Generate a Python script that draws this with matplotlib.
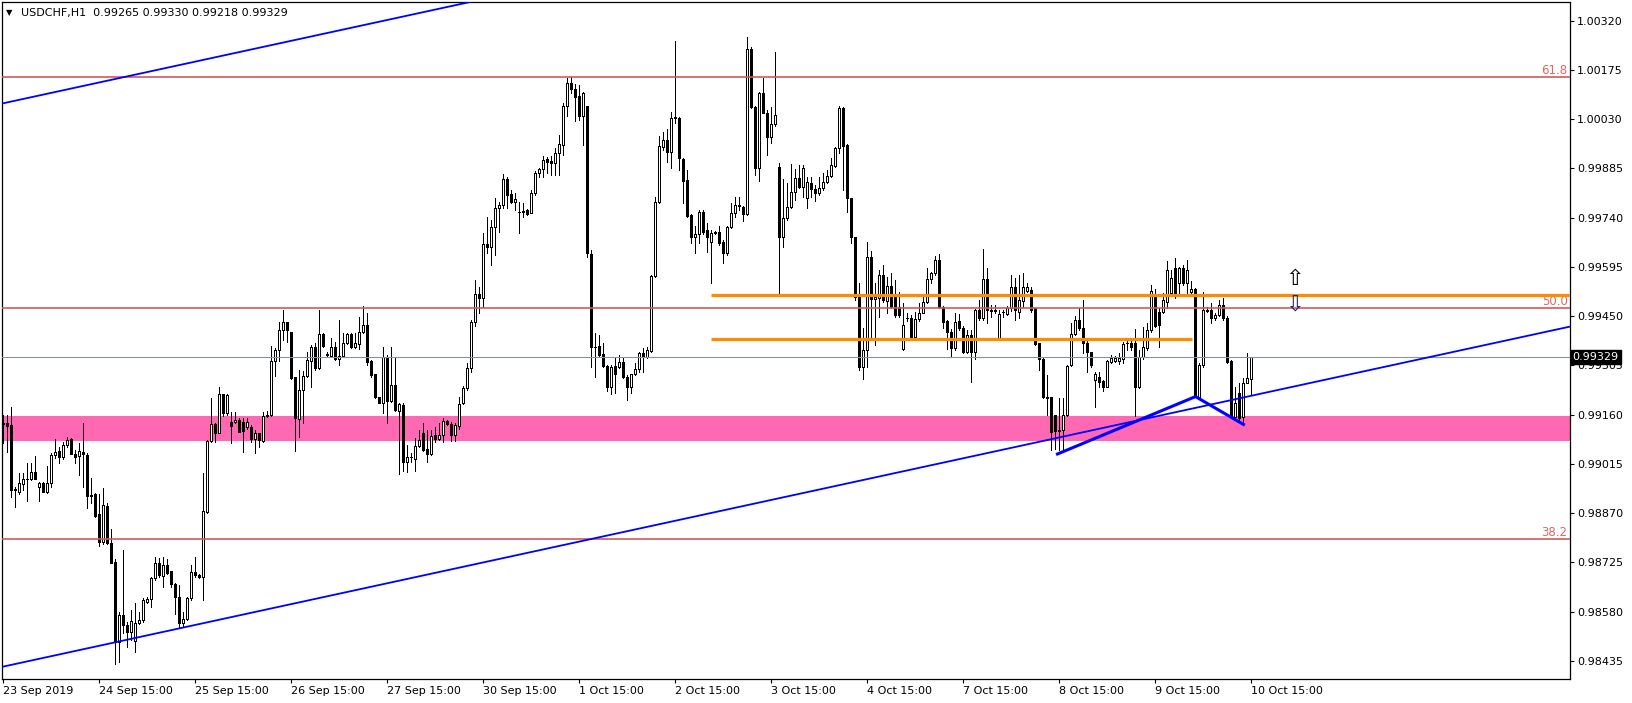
import matplotlib
matplotlib.use("Agg")
import matplotlib.pyplot as plt
from matplotlib.patches import Rectangle
from matplotlib.collections import PatchCollection, LineCollection
import matplotlib.transforms as mtransforms

# ---------------- data ----------------
header_symbol = "USDCHF,H1"
header_ohlc = "0.99265 0.99330 0.99218 0.99329"

opens = [
    0.99134, 0.99134, 0.99129, 0.98940, 0.98933, 0.98957, 0.98970, 0.98970, 0.98990, 0.98948,
    0.98959, 0.98931, 0.98959, 0.99042, 0.99052, 0.99036, 0.99069, 0.99088, 0.99044, 0.99038,
    0.99051, 0.99041, 0.98921, 0.98926, 0.98867, 0.98786, 0.98891, 0.98781, 0.98725, 0.98491,
    0.98570, 0.98540, 0.98520, 0.98494, 0.98545, 0.98555, 0.98609, 0.98616, 0.98678, 0.98722,
    0.98686, 0.98717, 0.98699, 0.98660, 0.98622, 0.98545, 0.98557, 0.98619, 0.98695, 0.98689,
    0.98683, 0.98874, 0.99083, 0.99131, 0.99107, 0.99220, 0.99166, 0.99137, 0.99137, 0.99144,
    0.99137, 0.99122, 0.99124, 0.99087, 0.99105, 0.99083, 0.99156, 0.99158, 0.99318, 0.99349,
    0.99409, 0.99432, 0.99402, 0.99270, 0.99146, 0.99232, 0.99274, 0.99319, 0.99358, 0.99296,
    0.99396, 0.99337, 0.99334, 0.99360, 0.99323, 0.99332, 0.99370, 0.99397, 0.99358, 0.99368,
    0.99402, 0.99424, 0.99318, 0.99279, 0.99211, 0.99195, 0.99328, 0.99201, 0.99247, 0.99171,
    0.99188, 0.99021, 0.99036, 0.99028, 0.99067, 0.99105, 0.99058, 0.99044, 0.99100, 0.99087,
    0.99100, 0.99141, 0.99132, 0.99100, 0.99126, 0.99193, 0.99237, 0.99296, 0.99432, 0.99514,
    0.99504, 0.99662, 0.99655, 0.99712, 0.99768, 0.99777, 0.99854, 0.99809, 0.99787, 0.99758,
    0.99758, 0.99763, 0.99755, 0.99812, 0.99871, 0.99882, 0.99912, 0.99908, 0.99902, 0.99930,
    0.99954, 1.00069, 1.00136, 1.00118, 1.00098, 1.00038, 1.00069, 0.99633, 0.99360, 0.99362,
    0.99338, 0.99303, 0.99242, 0.99303, 0.99299, 0.99314, 0.99272, 0.99240, 0.99279, 0.99293,
    0.99342, 0.99330, 0.99348, 0.99568, 0.99787, 0.99949, 0.99969, 0.99932, 1.00035, 1.00033,
    0.99913, 0.99851, 0.99748, 0.99682, 0.99692, 0.99758, 0.99704, 0.99669, 0.99694, 0.99697,
    0.99668, 0.99635, 0.99712, 0.99753, 0.99775, 0.99771, 0.99750, 1.00236, 1.00065, 0.99885,
    1.00106, 1.00049, 0.99977, 1.00016, 0.99890, 0.99684, 0.99738, 0.99771, 0.99817, 0.99856,
    0.99830, 0.99797, 0.99843, 0.99824, 0.99812, 0.99827, 0.99846, 0.99864, 0.99892, 0.99944,
    1.00062, 0.99954, 0.99797, 0.99682, 0.99507, 0.99301, 0.99350, 0.99623, 0.99500, 0.99503,
    0.99571, 0.99496, 0.99539, 0.99509, 0.99478, 0.99352, 0.99443, 0.99443, 0.99388, 0.99441,
    0.99460, 0.99493, 0.99558, 0.99576, 0.99615, 0.99478, 0.99436, 0.99404, 0.99355, 0.99435,
    0.99414, 0.99345, 0.99394, 0.99345, 0.99468, 0.99443, 0.99558, 0.99468, 0.99466, 0.99386,
    0.99461, 0.99456, 0.99473, 0.99535, 0.99463, 0.99495, 0.99525, 0.99527, 0.99473, 0.99370,
    0.99325, 0.99212, 0.99212, 0.99158, 0.99112, 0.99114, 0.99158, 0.99306, 0.99396, 0.99438,
    0.99414, 0.99370, 0.99345, 0.99262, 0.99271, 0.99260, 0.99242, 0.99316, 0.99318, 0.99318,
    0.99325, 0.99370, 0.99372, 0.99370, 0.99242, 0.99330, 0.99355, 0.99409, 0.99509, 0.99463,
    0.99463, 0.99493, 0.99517, 0.99591, 0.99547, 0.99591, 0.99547, 0.99522, 0.99529, 0.99213,
    0.99306, 0.99468, 0.99468, 0.99444, 0.99453, 0.99483, 0.99444, 0.99319, 0.99154, 0.99223,
    0.99154, 0.99252, 0.99265,
]

highs = [
    0.99159, 0.99158, 0.99183, 0.98948, 0.98989, 0.98987, 0.99016, 0.99016, 0.99038, 0.98962,
    0.98962, 0.99008, 0.99046, 0.99087, 0.99065, 0.99080, 0.99095, 0.99090, 0.99056, 0.99075,
    0.99134, 0.99046, 0.98972, 0.98928, 0.98926, 0.98943, 0.98899, 0.98822, 0.98734, 0.98579,
    0.98761, 0.98550, 0.98584, 0.98604, 0.98579, 0.98619, 0.98624, 0.98683, 0.98741, 0.98738,
    0.98741, 0.98736, 0.98699, 0.98663, 0.98658, 0.98579, 0.98624, 0.98717, 0.98741, 0.98692,
    0.98989, 0.99085, 0.99208, 0.99134, 0.99240, 0.99221, 0.99220, 0.99169, 0.99169, 0.99149,
    0.99149, 0.99149, 0.99129, 0.99115, 0.99107, 0.99169, 0.99172, 0.99362, 0.99355, 0.99432,
    0.99468, 0.99434, 0.99404, 0.99270, 0.99291, 0.99289, 0.99345, 0.99365, 0.99370, 0.99468,
    0.99399, 0.99345, 0.99385, 0.99375, 0.99439, 0.99399, 0.99401, 0.99399, 0.99399, 0.99446,
    0.99480, 0.99458, 0.99321, 0.99281, 0.99213, 0.99360, 0.99335, 0.99360, 0.99330, 0.99193,
    0.99195, 0.99070, 0.99046, 0.99090, 0.99114, 0.99134, 0.99114, 0.99114, 0.99122, 0.99134,
    0.99149, 0.99144, 0.99139, 0.99134, 0.99213, 0.99244, 0.99313, 0.99439, 0.99556, 0.99537,
    0.99696, 0.99743, 0.99733, 0.99797, 0.99787, 0.99869, 0.99859, 0.99821, 0.99812, 0.99787,
    0.99782, 0.99765, 0.99821, 0.99876, 0.99885, 0.99922, 0.99918, 0.99922, 0.99944, 0.99984,
    1.00077, 1.00150, 1.00153, 1.00134, 1.00131, 1.00111, 1.00069, 0.99645, 0.99399, 0.99394,
    0.99370, 0.99306, 0.99306, 0.99326, 0.99335, 0.99326, 0.99276, 0.99281, 0.99311, 0.99345,
    0.99355, 0.99360, 0.99571, 0.99802, 0.99979, 0.99993, 1.00000, 1.00052, 1.00259, 1.00036,
    0.99915, 0.99881, 0.99750, 0.99714, 0.99763, 0.99763, 0.99725, 0.99704, 0.99701, 0.99714,
    0.99674, 0.99714, 0.99782, 0.99802, 0.99802, 0.99773, 1.00271, 1.00244, 1.00069, 1.00111,
    1.00151, 1.00057, 1.00067, 1.00227, 0.99900, 0.99853, 0.99841, 0.99898, 0.99883, 0.99895,
    0.99895, 0.99861, 0.99861, 0.99836, 0.99861, 0.99871, 0.99881, 0.99915, 0.99949, 1.00069,
    1.00065, 0.99957, 0.99797, 0.99684, 0.99547, 0.99414, 0.99669, 0.99643, 0.99547, 0.99586,
    0.99601, 0.99566, 0.99576, 0.99555, 0.99522, 0.99488, 0.99460, 0.99453, 0.99463, 0.99488,
    0.99507, 0.99591, 0.99581, 0.99627, 0.99633, 0.99480, 0.99439, 0.99411, 0.99458, 0.99456,
    0.99421, 0.99409, 0.99409, 0.99470, 0.99497, 0.99649, 0.99591, 0.99483, 0.99483, 0.99468,
    0.99468, 0.99480, 0.99571, 0.99561, 0.99571, 0.99576, 0.99548, 0.99537, 0.99473, 0.99370,
    0.99330, 0.99276, 0.99212, 0.99158, 0.99208, 0.99208, 0.99306, 0.99429, 0.99450, 0.99473,
    0.99497, 0.99379, 0.99345, 0.99286, 0.99286, 0.99262, 0.99322, 0.99335, 0.99332, 0.99340,
    0.99375, 0.99384, 0.99379, 0.99411, 0.99350, 0.99419, 0.99430, 0.99542, 0.99530, 0.99473,
    0.99517, 0.99611, 0.99586, 0.99620, 0.99596, 0.99601, 0.99616, 0.99552, 0.99532, 0.99311,
    0.99522, 0.99478, 0.99488, 0.99458, 0.99498, 0.99503, 0.99449, 0.99321, 0.99242, 0.99252,
    0.99267, 0.99341, 0.99330,
]

lows = [
    0.99075, 0.99051, 0.98918, 0.98889, 0.98926, 0.98938, 0.98905, 0.98967, 0.98970, 0.98906,
    0.98931, 0.98928, 0.98948, 0.99031, 0.99016, 0.99028, 0.99065, 0.99043, 0.99018, 0.98982,
    0.98948, 0.98884, 0.98899, 0.98859, 0.98773, 0.98779, 0.98779, 0.98722, 0.98426, 0.98431,
    0.98516, 0.98475, 0.98496, 0.98461, 0.98543, 0.98550, 0.98606, 0.98594, 0.98673, 0.98683,
    0.98653, 0.98692, 0.98653, 0.98574, 0.98535, 0.98533, 0.98555, 0.98614, 0.98683, 0.98678,
    0.98614, 0.98871, 0.99080, 0.99080, 0.99105, 0.99156, 0.99159, 0.99075, 0.99136, 0.99108,
    0.99051, 0.99119, 0.99080, 0.99048, 0.99065, 0.99080, 0.99154, 0.99156, 0.99274, 0.99319,
    0.99380, 0.99375, 0.99265, 0.99054, 0.99093, 0.99134, 0.99272, 0.99242, 0.99291, 0.99293,
    0.99360, 0.99329, 0.99330, 0.99321, 0.99306, 0.99330, 0.99368, 0.99355, 0.99355, 0.99352,
    0.99399, 0.99306, 0.99270, 0.99208, 0.99193, 0.99166, 0.99136, 0.99198, 0.99171, 0.98985,
    0.98995, 0.98990, 0.99021, 0.98995, 0.99065, 0.99054, 0.99021, 0.99041, 0.99080, 0.99085,
    0.99080, 0.99129, 0.99083, 0.99083, 0.99119, 0.99191, 0.99232, 0.99286, 0.99421, 0.99458,
    0.99476, 0.99637, 0.99601, 0.99630, 0.99699, 0.99768, 0.99768, 0.99782, 0.99763, 0.99696,
    0.99743, 0.99748, 0.99753, 0.99807, 0.99859, 0.99859, 0.99871, 0.99866, 0.99866, 0.99866,
    0.99925, 1.00038, 1.00106, 1.00026, 1.00028, 0.99954, 0.99623, 0.99299, 0.99272, 0.99330,
    0.99301, 0.99230, 0.99222, 0.99224, 0.99296, 0.99267, 0.99203, 0.99224, 0.99276, 0.99286,
    0.99286, 0.99326, 0.99345, 0.99566, 0.99784, 0.99939, 0.99905, 0.99885, 1.00020, 0.99881,
    0.99784, 0.99743, 0.99665, 0.99635, 0.99665, 0.99692, 0.99640, 0.99547, 0.99692, 0.99660,
    0.99606, 0.99630, 0.99709, 0.99741, 0.99763, 0.99731, 0.99748, 1.00062, 0.99866, 0.99849,
    1.00047, 0.99925, 0.99959, 1.00010, 0.99517, 0.99655, 0.99733, 0.99768, 0.99792, 0.99827,
    0.99802, 0.99768, 0.99802, 0.99790, 0.99807, 0.99822, 0.99843, 0.99861, 0.99890, 0.99930,
    0.99822, 0.99758, 0.99665, 0.99498, 0.99291, 0.99264, 0.99301, 0.99380, 0.99365, 0.99448,
    0.99493, 0.99458, 0.99473, 0.99448, 0.99448, 0.99350, 0.99437, 0.99385, 0.99385, 0.99437,
    0.99458, 0.99488, 0.99547, 0.99571, 0.99473, 0.99414, 0.99352, 0.99333, 0.99350, 0.99409,
    0.99340, 0.99340, 0.99257, 0.99325, 0.99440, 0.99438, 0.99430, 0.99448, 0.99460, 0.99384,
    0.99446, 0.99453, 0.99466, 0.99438, 0.99443, 0.99478, 0.99522, 0.99463, 0.99365, 0.99291,
    0.99210, 0.99158, 0.99055, 0.99060, 0.99055, 0.99060, 0.99155, 0.99303, 0.99394, 0.99409,
    0.99340, 0.99286, 0.99301, 0.99183, 0.99242, 0.99230, 0.99240, 0.99313, 0.99316, 0.99309,
    0.99311, 0.99350, 0.99350, 0.99155, 0.99237, 0.99325, 0.99350, 0.99404, 0.99419, 0.99360,
    0.99458, 0.99473, 0.99508, 0.99503, 0.99508, 0.99542, 0.99517, 0.99512, 0.99211, 0.99211,
    0.99301, 0.99463, 0.99429, 0.99439, 0.99449, 0.99439, 0.99311, 0.99149, 0.99149, 0.99144,
    0.99129, 0.99252, 0.99218,
]

closes = [
    0.99131, 0.99127, 0.98938, 0.98937, 0.98959, 0.98970, 0.98971, 0.98990, 0.98971, 0.98959,
    0.98931, 0.98959, 0.99041, 0.99051, 0.99036, 0.99070, 0.99085, 0.99043, 0.99036, 0.99052,
    0.99043, 0.98921, 0.98923, 0.98862, 0.98786, 0.98894, 0.98781, 0.98724, 0.98491, 0.98570,
    0.98540, 0.98520, 0.98553, 0.98545, 0.98555, 0.98614, 0.98616, 0.98678, 0.98722, 0.98687,
    0.98717, 0.98694, 0.98660, 0.98622, 0.98545, 0.98557, 0.98619, 0.98695, 0.98687, 0.98683,
    0.98876, 0.99082, 0.99131, 0.99105, 0.99220, 0.99166, 0.99218, 0.99127, 0.99144, 0.99110,
    0.99112, 0.99137, 0.99087, 0.99105, 0.99085, 0.99156, 0.99159, 0.99318, 0.99350, 0.99409,
    0.99432, 0.99409, 0.99267, 0.99149, 0.99232, 0.99274, 0.99321, 0.99358, 0.99296, 0.99396,
    0.99362, 0.99335, 0.99360, 0.99323, 0.99332, 0.99370, 0.99397, 0.99358, 0.99370, 0.99402,
    0.99424, 0.99316, 0.99276, 0.99211, 0.99195, 0.99330, 0.99201, 0.99247, 0.99173, 0.99191,
    0.99021, 0.99036, 0.99034, 0.99067, 0.99085, 0.99056, 0.99044, 0.99097, 0.99087, 0.99100,
    0.99141, 0.99131, 0.99100, 0.99129, 0.99191, 0.99237, 0.99296, 0.99432, 0.99514, 0.99504,
    0.99662, 0.99655, 0.99712, 0.99768, 0.99777, 0.99854, 0.99807, 0.99785, 0.99795, 0.99757,
    0.99759, 0.99751, 0.99812, 0.99871, 0.99882, 0.99910, 0.99905, 0.99902, 0.99931, 0.99957,
    1.00069, 1.00136, 1.00118, 1.00096, 1.00038, 1.00106, 0.99635, 0.99358, 0.99358, 0.99335,
    0.99303, 0.99242, 0.99301, 0.99279, 0.99314, 0.99272, 0.99240, 0.99279, 0.99293, 0.99340,
    0.99329, 0.99350, 0.99568, 0.99787, 0.99951, 0.99969, 0.99932, 1.00033, 1.00033, 0.99915,
    0.99849, 0.99746, 0.99682, 0.99692, 0.99758, 0.99699, 0.99682, 0.99694, 0.99699, 0.99665,
    0.99635, 0.99712, 0.99753, 0.99777, 0.99777, 0.99750, 1.00236, 1.00065, 0.99885, 1.00106,
    1.00049, 0.99977, 1.00015, 1.00042, 0.99684, 0.99738, 0.99771, 0.99817, 0.99856, 0.99830,
    0.99885, 0.99846, 0.99824, 0.99812, 0.99827, 0.99846, 0.99864, 0.99895, 0.99944, 1.00062,
    0.99951, 0.99797, 0.99682, 0.99507, 0.99301, 0.99350, 0.99623, 0.99500, 0.99507, 0.99571,
    0.99498, 0.99539, 0.99478, 0.99453, 0.99453, 0.99424, 0.99445, 0.99388, 0.99441, 0.99460,
    0.99493, 0.99558, 0.99576, 0.99615, 0.99478, 0.99434, 0.99404, 0.99355, 0.99434, 0.99414,
    0.99345, 0.99394, 0.99345, 0.99468, 0.99443, 0.99558, 0.99468, 0.99466, 0.99468, 0.99456,
    0.99463, 0.99473, 0.99535, 0.99468, 0.99497, 0.99537, 0.99535, 0.99468, 0.99368, 0.99325,
    0.99212, 0.99210, 0.99109, 0.99112, 0.99114, 0.99158, 0.99303, 0.99396, 0.99438, 0.99414,
    0.99370, 0.99345, 0.99306, 0.99281, 0.99257, 0.99242, 0.99318, 0.99328, 0.99328, 0.99328,
    0.99368, 0.99372, 0.99358, 0.99242, 0.99330, 0.99358, 0.99409, 0.99525, 0.99421, 0.99424,
    0.99498, 0.99586, 0.99562, 0.99517, 0.99591, 0.99547, 0.99586, 0.99529, 0.99213, 0.99306,
    0.99468, 0.99465, 0.99444, 0.99453, 0.99483, 0.99444, 0.99316, 0.99154, 0.99193, 0.99149,
    0.99252, 0.99267, 0.99329,
]

x_tick_bars = [0, 24, 48, 72, 96, 120, 144, 168, 192, 216, 240, 264, 288, 312]
x_tick_labels = ["23 Sep 2019", "24 Sep 15:00", "25 Sep 15:00", "26 Sep 15:00",
                 "27 Sep 15:00", "30 Sep 15:00", "1 Oct 15:00", "2 Oct 15:00",
                 "3 Oct 15:00", "4 Oct 15:00", "7 Oct 15:00", "8 Oct 15:00",
                 "9 Oct 15:00", "10 Oct 15:00"]
y_tick_values = [0.98435, 0.98580, 0.98725, 0.98870, 0.99015, 0.99160, 0.99305,
                 0.99450, 0.99595, 0.99740, 0.99885, 1.00030, 1.00175, 1.00320]

fib_levels = [1.00155, 0.99475, 0.98794]
fib_labels = ["61.8", "50.0", "38.2"]

zone_top = 0.99156
zone_bottom = 0.99083

orange_levels = [0.99512, 0.99382]
orange_start_bars = [176.8, 176.8]
orange_end_bars = [None, 297.1]

channel_lower = [(0, 0.98418), (390, 0.99415)]
channel_upper = [(0, 1.00077), (117, 1.00376)]

zigzag_bars = [263.5, 298, 310]
zigzag_prices = [0.99044, 0.99213, 0.99131]

last_price = 0.99329
arrow_bar = 322.7
arrow_up_price = 0.99559
arrow_down_price = 0.99484

# ---------------- figure ----------------
W, H = 1633, 703
fig = plt.figure(figsize=(W / 100, H / 100), dpi=100)
ax = fig.add_axes([2 / W, 24 / H, 1568 / W, 677 / H])
XMIN, XMAX = -0.375, 391.625
ax.set_xlim(XMIN, XMAX)
ax.set_ylim(0.983813, 1.003751)
ax.set_facecolor("white")

# background zone
ax.axhspan(zone_bottom, zone_top, facecolor="#FF69B4", edgecolor="none", zorder=0.5)

# candles
wick_segs = []
bodies_up, bodies_dn = [], []
bw = 0.5
for i, (o, h, l, c) in enumerate(zip(opens, highs, lows, closes)):
    wick_segs.append([(i, l), (i, h)])
    r = Rectangle((i - bw / 2, min(o, c)), bw, abs(c - o))
    (bodies_up if c >= o else bodies_dn).append(r)
ax.add_collection(LineCollection(wick_segs, colors="black", linewidths=0.7,
                                 zorder=2, antialiaseds=False, snap=True))
ax.add_collection(PatchCollection(bodies_up, facecolor="white", edgecolor="black",
                                  linewidths=0.7, zorder=2.2, antialiased=False,
                                  snap=True))
ax.add_collection(PatchCollection(bodies_dn, facecolor="black", edgecolor="black",
                                  linewidths=0.7, zorder=2.2, antialiased=False,
                                  snap=True))

# fibo levels
trans_lab = mtransforms.blended_transform_factory(ax.transAxes, ax.transData)
for lvl, lab in zip(fib_levels, fib_labels):
    ax.axhline(lvl, color="#CD5C5C", lw=1.2, zorder=3)
    ax.text(0.9985, lvl, lab, transform=trans_lab, ha="right", va="bottom",
            color="#E06666", fontsize=8.5, zorder=3)

# current price line
ax.axhline(last_price, color="#8A939E", lw=0.8, zorder=3)

# orange levels
for lvl, s, e in zip(orange_levels, orange_start_bars, orange_end_bars):
    ax.plot([s, XMAX if e is None else e], [lvl, lvl], color="#FF8C00", lw=2.3,
            zorder=3.5, solid_capstyle="butt")

# channel trend lines
ax.axline(channel_lower[0], channel_lower[1], color="#0000FF", lw=1.3, zorder=3.6)
ax.axline(channel_upper[0], channel_upper[1], color="#0000FF", lw=1.3, zorder=3.6)

# zigzag
ax.plot(zigzag_bars, zigzag_prices, color="#0000FF", lw=2.2, zorder=3.7)

# arrows
ax.text(arrow_bar, arrow_up_price, "\u21E7", ha="center", va="center",
        fontsize=16, color="black", zorder=4)
ax.text(arrow_bar, arrow_down_price, "\u21E9", ha="center", va="center",
        fontsize=16, color="#1a2a6a", zorder=4)

# axes styling
for sp in ax.spines.values():
    sp.set_color("black")
    sp.set_linewidth(0.9)

ax.yaxis.tick_right()
ax.set_yticks(y_tick_values)
ax.set_yticklabels([f"{v:.5f}" for v in y_tick_values])
ax.tick_params(axis="y", direction="out", length=3, width=0.8, labelsize=8,
               pad=2, colors="black")
ax.set_xticks(x_tick_bars)
ax.set_xticklabels(x_tick_labels)
ax.tick_params(axis="x", direction="out", length=3, width=0.8, labelsize=8,
               pad=2, colors="black")
for lbl in ax.get_xticklabels():
    lbl.set_ha("left")

# last price box
ax.text(1.0016, last_price, f"{last_price:.5f}", transform=trans_lab, ha="left",
        va="center", color="white", fontsize=8, zorder=10, clip_on=False,
        bbox=dict(boxstyle="square,pad=0.18", fc="black", ec="black"))

# header
fig.text(6 / W, 1 - 13 / H, "\u25BC", fontsize=6, va="center", ha="left")
fig.text(21 / W, 1 - 13 / H, header_symbol + "  " + header_ohlc, fontsize=8,
         va="center", ha="left")

fig.savefig("out.png", dpi=100, facecolor="white")
